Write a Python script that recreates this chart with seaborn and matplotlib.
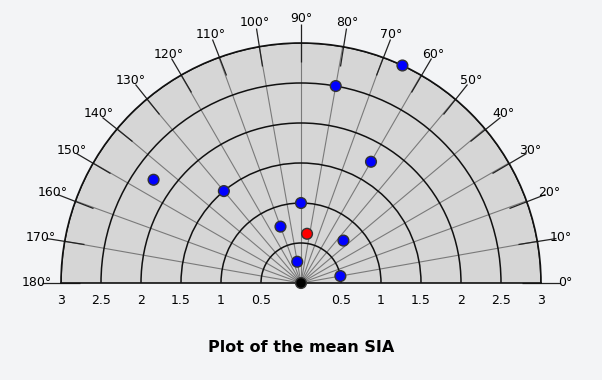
import numpy as np
import pandas as pd
import matplotlib
matplotlib.use("Agg")
import matplotlib.pyplot as plt
import seaborn as sns

# SIA vectors (angle in degrees, magnitude)
eye_angles = [65, 80, 60, 145, 130, 90, 110, 45, 100, 10]
eye_magnitudes = [3.0, 2.5, 1.75, 2.25, 1.5, 1.0, 0.75, 0.75, 0.27, 0.5]
mean_angle = [83]
mean_magnitude = [0.62]
origin_angle = [0]
origin_magnitude = [0.0]

radial_ticks = [0.5, 1, 1.5, 2, 2.5, 3]
radial_labels = ["0.5", "1", "1.5", "2", "2.5", "3"]
angle_ticks = list(range(0, 181, 10))
angle_labels = [f"{a}°" for a in angle_ticks]

df = pd.DataFrame({
    "angle": eye_angles + mean_angle + origin_angle,
    "magnitude": eye_magnitudes + mean_magnitude + origin_magnitude,
    "kind": ["eye"] * len(eye_angles) + ["mean"] + ["origin"],
})
df["theta"] = np.deg2rad(df["angle"])

sns.set_style("white")
plt.rcParams["font.family"] = ["DejaVu Sans"]
plt.rcParams["text.color"] = "black"
plt.rcParams["xtick.color"] = "black"
plt.rcParams["ytick.color"] = "black"

bg = "#f3f4f6"
fig = plt.figure(figsize=(6.02, 3.80), dpi=100, facecolor=bg)
# half-disc polar axes fits its wedge into half of the box, so the box is doubled
ax = fig.add_axes([-179 / 602, -23 / 380, 960 / 602, 480 / 380], projection="polar")
ax.set_facecolor("#d6d6d6")
ax.set_thetamin(0)
ax.set_thetamax(180)
ax.set_ylim(0, 3)

ax.set_thetagrids(angle_ticks, angle_labels, fontsize=9, color="black")
ax.set_rticks(radial_ticks)
ax.set_yticklabels([])
ax.xaxis.grid(True, color="#7a7a7a", lw=0.8)
ax.yaxis.grid(True, color="#111111", lw=1.1)
# outer tick marks on the angle axis (tick2 sits on the outer rim)
ax.tick_params(axis="x", bottom=False, top=True, direction="inout", length=14,
               width=0.9, color="#222222", pad=3.5)

for name, sp in ax.spines.items():
    if name == "inner":
        sp.set_visible(False)
    else:
        sp.set_color("#111111")
        sp.set_linewidth(1.2)

sns.scatterplot(data=df, x="theta", y="magnitude", hue="kind",
                palette={"eye": "#0000ff", "mean": "#ff0000", "origin": "#000000"},
                s=60, edgecolor="#333333", linewidth=1, legend=False, ax=ax,
                clip_on=False, zorder=5)
ax.set_xlabel("")
ax.set_ylabel("")

# radial labels on both sides of the baseline
for r, lab in zip(radial_ticks, radial_labels):
    for th in (0, np.pi):
        ax.annotate(lab, xy=(th, r), xytext=(0, -8), textcoords="offset points",
                    ha="center", va="top", fontsize=9, color="black",
                    annotation_clip=False)

fig.text(0.5, 1 - 348 / 380, "Plot of the mean SIA", ha="center", va="center",
         fontsize=11.5, fontweight="bold", color="black")

fig.savefig("out.png", dpi=100, facecolor=bg)
